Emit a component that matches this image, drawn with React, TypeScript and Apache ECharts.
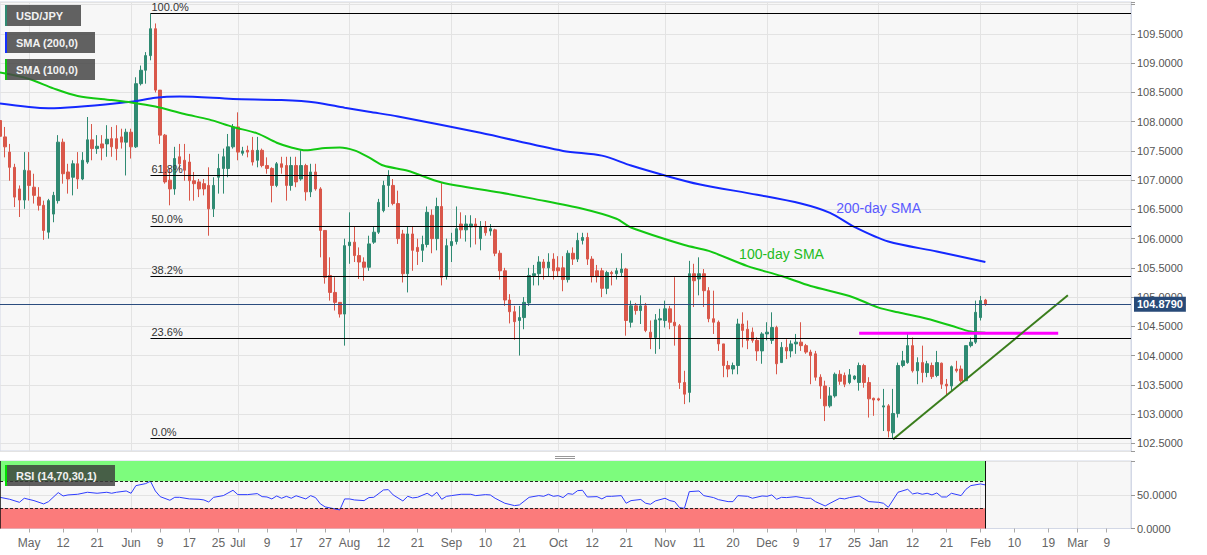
import React, { useEffect, useRef } from 'react';
import * as echarts from 'echarts';

// Daily USD/JPY candles, first bar = 2020-04-23, one bar per weekday: [open, high, low, close]
const candles: number[][] = [
  [108.02,108.08,107.34,107.75],[107.74,107.91,107.39,107.57],[107.48,107.62,106.99,107.22],[107.22,107.28,106.54,106.71],
  [106.85,106.91,106.37,106.66],[106.66,107.48,106.51,107.17],[107.16,107.48,106.65,106.91],[106.88,107.11,106.60,106.74],
  [106.71,106.88,106.48,106.57],[106.57,106.65,105.98,106.14],[106.11,106.68,106.00,106.65],[106.42,106.80,106.28,106.74],
  [106.65,107.77,106.60,107.65],[107.65,107.71,106.94,107.11],[107.14,107.28,106.77,107.02],[107.05,107.34,106.74,107.28],
  [107.28,107.48,106.85,107.02],[107.02,107.48,107.00,107.34],[107.31,108.08,107.28,107.69],[107.69,107.96,107.34,107.54],
  [107.54,107.77,107.45,107.58],[107.62,107.77,107.34,107.55],[107.62,107.94,107.40,107.70],[107.71,107.91,107.40,107.57],
  [107.71,107.94,107.34,107.54],[107.74,107.88,107.54,107.65],[107.65,107.88,107.08,107.82],[107.82,107.88,107.37,107.57],
  [107.57,108.76,107.55,108.65],[108.65,108.96,108.62,108.88],[108.88,109.19,108.65,109.13],[109.13,109.85,109.05,109.59],
  [109.59,109.68,108.50,108.54],[108.54,108.54,107.62,107.77],[107.77,107.79,106.94,106.97],[107.00,107.20,106.57,106.85],
  [106.85,107.57,106.75,107.37],[107.40,107.62,107.17,107.28],[107.34,107.62,106.99,107.17],[107.31,107.45,106.65,106.99],
  [106.99,107.14,106.65,106.94],[106.97,107.02,106.71,106.85],[106.94,107.02,106.74,106.85],[106.91,107.22,106.05,106.51],
  [106.51,107.05,106.37,106.91],[107.05,107.45,106.77,107.20],[107.20,107.54,106.77,107.40],[107.20,107.79,107.05,107.57],
  [107.57,107.96,107.54,107.91],[107.91,108.16,107.34,107.48],[107.46,107.57,107.42,107.50],[107.51,107.59,107.39,107.48],
  [107.51,107.74,107.25,107.31],[107.34,107.74,107.22,107.51],[107.51,107.54,107.22,107.25],[107.25,107.39,107.11,107.20],
  [107.20,107.22,106.62,106.91],[106.91,107.31,106.88,107.28],[107.28,107.40,107.11,107.22],[107.25,107.40,106.65,106.91],
  [106.91,107.40,106.82,107.25],[107.25,107.40,106.88,106.97],[107.02,107.51,106.99,107.25],[107.25,107.28,106.65,106.80],
  [106.80,107.28,106.71,107.14],[107.14,107.28,106.82,106.85],[106.85,106.88,105.68,106.14],[106.14,106.14,105.23,105.34],
  [105.37,105.68,104.94,105.08],[105.08,105.34,104.77,104.91],[104.91,104.91,104.65,104.71],[104.71,106.00,104.17,105.88],
  [105.88,106.45,105.57,105.94],[105.94,106.20,105.60,105.71],[105.71,105.85,105.31,105.60],[105.60,105.68,105.28,105.51],
  [105.51,106.05,105.45,105.91],[105.94,106.20,105.91,106.11],[106.11,106.68,106.08,106.62],[106.48,106.99,106.45,106.91],
  [106.91,107.17,106.54,107.08],[106.91,107.02,106.57,106.60],[106.60,106.82,105.91,106.00],[106.08,106.15,105.25,105.40],
  [105.40,106.20,105.08,106.08],[106.08,106.20,105.45,105.80],[105.85,106.00,105.55,105.78],[105.80,106.05,105.60,105.90],
  [105.90,106.55,105.85,106.45],[106.40,106.50,105.75,106.00],[106.00,106.70,105.80,106.55],[106.55,106.95,105.20,105.34],
  [105.36,106.00,105.30,105.88],[105.88,106.10,105.60,105.95],[105.95,106.55,105.90,106.17],[106.25,106.45,106.00,106.15],
  [106.15,106.40,105.95,106.25],[106.20,106.40,105.85,106.25],[106.25,106.35,105.90,106.20],[106.00,106.30,105.80,106.20],
  [106.20,106.30,106.05,106.10],[106.13,106.25,106.05,106.17],[106.15,106.17,105.70,105.75],[105.75,105.80,105.30,105.45],
  [105.45,105.50,104.85,104.95],[104.95,105.05,104.55,104.75],[104.75,104.85,104.27,104.58],[104.60,104.85,104.00,104.65],
  [104.65,105.00,104.45,104.91],[104.90,105.50,104.85,105.37],[105.37,105.55,105.20,105.40],[105.40,105.70,105.20,105.60],
  [105.60,105.65,105.30,105.50],[105.50,105.75,105.35,105.60],[105.65,105.75,105.30,105.45],[105.50,105.70,105.35,105.45],
  [105.50,105.70,105.10,105.30],[105.30,105.80,105.25,105.75],[105.75,105.85,105.55,105.65],[105.65,106.10,105.60,105.97],
  [105.97,106.10,105.90,106.02],[106.02,106.10,105.55,105.65],[105.65,105.70,105.25,105.35],[105.45,105.55,105.25,105.35],
  [105.45,105.50,105.00,105.15],[105.15,105.45,105.05,105.42],[105.42,105.45,105.20,105.40],[105.40,105.50,105.30,105.45],
  [105.42,105.75,105.35,105.48],[105.48,105.50,104.34,104.60],[104.57,104.94,104.48,104.85],[104.85,104.90,104.70,104.77],
  [104.77,105.03,104.54,104.85],[104.85,104.90,104.40,104.43],[104.40,104.60,104.11,104.31],[104.31,104.71,104.03,104.61],
  [104.61,104.80,104.11,104.63],[104.60,104.94,104.48,104.80],[104.80,104.85,104.45,104.57],[104.57,105.34,104.17,104.51],
  [104.51,104.54,103.43,103.54],[103.54,103.74,103.17,103.34],[103.37,105.62,103.20,105.40],[105.40,105.57,104.83,105.28],
  [105.31,105.68,105.03,105.40],[105.40,105.48,104.83,105.11],[105.11,105.17,104.57,104.63],[104.63,105.11,104.37,104.57],
  [104.57,104.60,104.08,104.20],[104.20,104.20,103.63,103.83],[103.83,103.91,103.63,103.77],[103.77,103.88,103.68,103.83],
  [103.83,104.63,103.68,104.54],[104.54,104.74,104.14,104.43],[104.45,104.60,104.11,104.26],[104.40,104.48,104.22,104.26],
  [104.26,104.31,103.91,104.08],[104.08,104.40,103.86,104.37],[104.37,104.57,104.26,104.40],[104.26,104.74,104.20,104.48],
  [104.48,104.51,103.68,103.86],[103.88,104.23,103.88,104.14],[104.14,104.28,103.94,104.08],[104.08,104.26,103.97,104.20],
  [104.20,104.37,104.03,104.23],[104.23,104.57,104.08,104.17],[104.17,104.20,104.03,104.06],[104.06,104.10,103.51,104.00],
  [104.03,104.08,103.57,103.63],[103.63,103.68,103.26,103.48],[103.48,103.57,102.88,103.14],[103.14,103.46,103.11,103.31],
  [103.31,103.71,103.28,103.68],[103.68,103.75,103.50,103.56],[103.66,103.71,103.46,103.51],[103.54,103.77,103.51,103.67],
  [103.60,103.66,103.58,103.65],[103.54,103.88,103.40,103.83],[103.83,103.86,103.45,103.54],[103.54,103.63,102.94,103.26],
  [103.27,103.28,102.97,103.24],[103.26,103.28,103.22,103.24],[103.12,103.43,102.71,103.14],[103.14,103.17,102.60,102.71],
  [102.68,103.43,102.59,103.01],[103.01,103.88,102.94,103.83],[103.83,104.08,103.80,103.91],[103.88,104.37,103.86,104.17],
  [104.17,104.31,103.71,103.74],[103.74,103.97,103.51,103.88],[103.88,104.17,103.54,103.71],[103.71,103.91,103.63,103.86],
  [103.83,103.88,103.60,103.64],[103.66,104.08,103.63,103.88],[103.87,103.88,103.43,103.51],[103.51,103.60,103.31,103.48],
  [103.48,103.83,103.40,103.81],[103.77,103.91,103.71,103.74],[103.77,103.83,103.54,103.57],[103.57,104.17,103.57,104.17],
  [104.17,104.31,104.14,104.23],[104.23,104.94,104.20,104.74],[104.65,105.02,104.60,104.94],[104.95,104.97,104.85,104.879],
];

// [barIndex, value]
const sma200: number[][] = [
  [0,108.31],[10,108.23],[27,108.34],[32,108.41],[37,108.43],[48,108.39],[58,108.37],[65,108.33],[71,108.24],
  [76,108.17],[82,108.09],[99,107.81],[116,107.50],[124,107.42],[130,107.25],[137,107.08],[144,106.93],
  [156,106.75],[165,106.60],[171,106.44],[176,106.20],[183,105.95],[193,105.78],[203,105.60],
];
const sma100: number[][] = [
  [0,108.84],[6,108.73],[11,108.57],[16,108.44],[23,108.37],[27,108.33],[32,108.26],[38,108.13],[43,108.04],
  [48,107.91],[53,107.80],[57,107.64],[60,107.56],[63,107.51],[67,107.55],[70,107.56],[73,107.51],[76,107.39],
  [79,107.25],[84,107.16],[91,106.96],[103,106.79],[110,106.68],[120,106.51],[127,106.34],[130,106.19],
  [141,105.89],[146,105.79],[154,105.53],[161,105.36],[167,105.19],[175,105.02],[181,104.82],[185,104.74],
  [191,104.63],[196,104.51],[200,104.41],[203,104.39],
];
const rsi: number[][] = [
  [0,46.2],[2,43.3],[4,38.8],[5,44.8],[7,41.3],[9,36.4],[10,39.8],[12,53.2],[13,48.2],[14,49.7],[16,50.7],[18,53.7],
  [20,52.2],[22,53.7],[23,52.2],[24,53.7],[26,55.6],[27,52.2],[28,63.5],[30,66.5],[31,70.0],[32,55.6],[33,47.2],
  [35,41.8],[36,46.2],[37,46.2],[39,43.8],[41,43.3],[42,42.3],[43,39.3],[44,46.2],[46,48.7],[48,56.6],[49,50.2],
  [51,50.2],[53,51.7],[54,47.2],[55,46.7],[56,43.8],[57,48.2],[58,44.8],[59,47.7],[60,44.8],[61,48.5],[63,43.8],
  [64,48.7],[65,45.8],[66,36.5],[67,32.0],[68,30.5],[69,29.0],[70,27.5],[71,43.8],[72,43.8],[73,42.3],[75,41.3],
  [76,45.8],[77,46.2],[79,57.1],[80,57.6],[81,49.7],[83,40.8],[84,47.7],[85,45.3],[86,46.2],[88,52.2],[89,47.7],
  [90,53.7],[91,43.3],[92,47.7],[93,48.7],[95,50.7],[97,50.7],[98,48.7],[100,50.2],[101,49.7],[102,44.8],[104,37.4],
  [106,33.9],[107,34.9],[109,46.2],[111,48.7],[112,47.7],[113,50.7],[114,47.7],[115,48.7],[116,45.8],[117,51.7],
  [118,50.7],[119,56.1],[120,56.6],[121,46.7],[123,47.2],[124,43.8],[125,47.7],[126,47.7],[128,48.7],[129,37.4],
  [130,41.3],[132,43.0],[133,37.5],[134,35.9],[135,40.8],[137,44.8],[138,41.3],[139,39.8],[140,30.9],[141,29.9],
  [142,54.6],[144,55.6],[145,48.7],[147,45.8],[148,42.8],[150,39.8],[151,39.8],[152,48.7],[154,47.7],[155,44.8],
  [157,48.2],[158,47.7],[159,49.7],[160,43.3],[161,46.2],[162,45.8],[164,47.2],[166,44.8],[167,44.8],[168,39.8],
  [170,33.4],[171,37.4],[173,44.8],[174,43.8],[175,45.8],[177,48.2],[179,39.8],[181,38.8],[182,37.4],[183,31.4],
  [185,53.7],[187,58.1],[188,51.2],[189,52.7],[190,50.7],[191,52.2],[192,49.7],[193,52.7],[194,46.7],[195,46.7],
  [196,52.2],[198,48.7],[199,58.1],[200,63.5],[202,66.0],[203,64.5],
];

const fibLabels = ['100.0%', '61.8%', '50.0%', '38.2%', '23.6%', '0.0%'];
const fibValues = [109.85, 107.08, 106.22, 105.36, 104.30, 102.58];
const fibStartBar = 31;
const resistanceLine: number[][] = [[177, 104.38], [218, 104.38]];
const supportTrendLine: number[][] = [[184, 102.57], [220, 105.03]];
const lastPrice = 104.879;

const xTickLabels: string[][] = [
  ['2020-05-01','May'],['2020-05-12','12'],['2020-05-21','21'],
  ['2020-06-01','Jun'],['2020-06-09','9'],['2020-06-17','17'],['2020-06-25','25'],
  ['2020-07-01','Jul'],['2020-07-09','9'],['2020-07-17','17'],['2020-07-27','27'],
  ['2020-08-03','Aug'],['2020-08-12','12'],['2020-08-21','21'],
  ['2020-09-01','Sep'],['2020-09-10','10'],['2020-09-21','21'],
  ['2020-10-01','Oct'],['2020-10-12','12'],['2020-10-21','21'],
  ['2020-11-02','Nov'],['2020-11-11','11'],['2020-11-20','20'],
  ['2020-12-01','Dec'],['2020-12-09','9'],['2020-12-17','17'],['2020-12-25','25'],
  ['2021-01-01','Jan'],['2021-01-12','12'],['2021-01-21','21'],
  ['2021-02-01','Feb'],['2021-02-10','10'],['2021-02-19','19'],
  ['2021-03-01','Mar'],['2021-03-09','9'],
];

const TOTAL_SLOTS = 234;

function weekdayDates(): string[] {
  const out: string[] = [];
  const d = new Date(Date.UTC(2020, 3, 23));
  while (out.length < TOTAL_SLOTS) {
    const wd = d.getUTCDay();
    if (wd !== 0 && wd !== 6) out.push(d.toISOString().slice(0, 10));
    d.setUTCDate(d.getUTCDate() + 1);
  }
  return out;
}

const FONT = 'Arial, "Liberation Sans", sans-serif';

export default function App() {
  const ref = useRef<HTMLDivElement>(null);
  useEffect(() => {
    if (!ref.current) return;
    const chart = echarts.init(ref.current, undefined, { renderer: 'svg' });
    const dates = weekdayDates();
    const labelMap: Record<string, string> = {};
    xTickLabels.forEach(([d, t]) => (labelMap[d] = t));
    const isLabel = (_i: number, v: string) => labelMap[v] !== undefined;
    const isMonth = (_i: number, v: string) => labelMap[v] !== undefined && isNaN(Number(labelMap[v]));
    const lastBar = candles.length - 1;
    const lastSlot = TOTAL_SLOTS - 1;
    const gridLine = { color: '#e3e3e3', width: 1 };
    const frame = '#d3d8e6';

    const fibMarks = fibValues.map((v, k) => [
      { coord: [fibStartBar, v], label: { show: true, formatter: fibLabels[k], position: 'insideStartTop', distance: [1, 1], color: '#333', fontSize: 11, fontFamily: FONT } },
      { coord: [lastSlot, v] },
    ]);

    const option: any = {
      animation: false,
      backgroundColor: '#ffffff',
      textStyle: { fontFamily: FONT },
      grid: [
        { left: 0, top: 2, width: 1131, height: 449, show: true, backgroundColor: '#f7f7f7', borderColor: frame, borderWidth: 1 },
        { left: 0, top: 461, width: 1131, height: 67.5, show: true, backgroundColor: '#f7f7f7', borderColor: frame, borderWidth: 1 },
      ],
      xAxis: [
        {
          type: 'category', gridIndex: 0, data: dates, boundaryGap: false,
          axisLine: { show: false }, axisTick: { show: false }, axisLabel: { show: false },
          splitLine: { show: true, interval: isMonth, lineStyle: gridLine },
        },
        {
          type: 'category', gridIndex: 1, data: dates, boundaryGap: false,
          axisLine: { show: true, lineStyle: { color: frame } },
          axisTick: { show: true, interval: isLabel, length: 4, lineStyle: { color: '#aaa' } },
          axisLabel: { show: true, interval: isLabel, formatter: (v: string) => labelMap[v] || '', color: '#666', fontSize: 12, margin: 8 },
          splitLine: { show: true, interval: isMonth, lineStyle: gridLine },
        },
      ],
      yAxis: [
        {
          type: 'value', gridIndex: 0, position: 'right', min: 102.368, max: 110.047, splitNumber: 15,
          axisLine: { show: true, lineStyle: { color: frame } },
          axisTick: { show: true, length: 4, lineStyle: { color: '#999' } },
          axisLabel: {
            color: '#555', fontSize: 11, margin: 6,
            formatter: (v: number) => {
              const r = Math.round(v * 2) / 2;
              if (Math.abs(v - r) > 1e-6 || v < 102.4 || v > 109.6) return '';
              return v.toFixed(4);
            },
          },
          splitLine: { show: true, lineStyle: gridLine },
        },
        {
          type: 'value', gridIndex: 1, position: 'right', min: 0, max: 100, interval: 50,
          axisLine: { show: true, lineStyle: { color: frame } },
          axisTick: { show: true, length: 4, lineStyle: { color: '#999' } },
          axisLabel: { color: '#555', fontSize: 11, margin: 6, formatter: (v: number) => (v === 0 || v === 50 ? v.toFixed(4) : '') },
          splitLine: { show: true, lineStyle: gridLine },
        },
      ],
      series: [
        {
          type: 'candlestick', xAxisIndex: 0, yAxisIndex: 0, barWidth: 3,
          data: candles.map(([o, h, l, c]) => [o, c, l, h]),
          itemStyle: { color: '#2f8a72', color0: '#d9574a', borderColor: '#2f8a72', borderColor0: '#d9574a', borderWidth: 1 },
        },
        {
          type: 'line', name: 'SMA (200,0)', xAxisIndex: 0, yAxisIndex: 0, data: sma200, showSymbol: false, smooth: 0.3, clip: false,
          lineStyle: { color: '#1428ff', width: 2 },
          markLine: {
            symbol: ['none', 'none'], silent: true,
            lineStyle: { color: '#000', width: 1, type: 'solid' },
            data: [
              ...fibMarks,
              [
                { coord: [0, lastPrice], lineStyle: { color: '#2b4c7e', width: 1, type: 'solid' },
                  label: { show: true, position: 'end', distance: 3, formatter: lastPrice.toFixed(4), color: '#fff', fontWeight: 'bold', fontSize: 11, backgroundColor: '#284a78', padding: [2, 3, 2, 3] } },
                { coord: [lastSlot, lastPrice] },
              ],
            ],
          },
          markPoint: {
            symbol: 'rect', symbolSize: [1, 1], itemStyle: { color: 'transparent' },
            data: [{ coord: [181, 106.53], label: { show: true, position: 'inside', formatter: '200-day SMA', color: '#5a5aff', fontSize: 14 } }],
          },
        },
        {
          type: 'line', name: 'SMA (100,0)', xAxisIndex: 0, yAxisIndex: 0, data: sma100, showSymbol: false, smooth: 0.3,
          lineStyle: { color: '#12c812', width: 2 },
          markPoint: {
            symbol: 'rect', symbolSize: [1, 1], itemStyle: { color: 'transparent' },
            data: [{ coord: [161, 105.74], label: { show: true, position: 'inside', formatter: '100-day SMA', color: '#22bb22', fontSize: 14 } }],
          },
        },
        {
          type: 'line', xAxisIndex: 0, yAxisIndex: 0, data: resistanceLine, showSymbol: false,
          lineStyle: { color: '#ff00ff', width: 3 },
        },
        {
          type: 'line', xAxisIndex: 0, yAxisIndex: 0, data: supportTrendLine, showSymbol: false,
          lineStyle: { color: '#3a7d1c', width: 2 },
        },
        {
          type: 'line', name: 'RSI', xAxisIndex: 1, yAxisIndex: 1, data: rsi, showSymbol: false, clip: false,
          lineStyle: { color: '#2f3dff', width: 1 },
          markArea: {
            silent: true,
            data: [
              [{ coord: [0, 70], itemStyle: { color: '#7dfc7d', opacity: 1 } }, { coord: [lastBar, 100] }],
              [{ coord: [0, 0], itemStyle: { color: '#fb7b7b', opacity: 1 } }, { coord: [lastBar, 30] }],
            ],
          },
          markLine: {
            symbol: ['none', 'none'], silent: true, label: { show: false },
            data: [
              [{ coord: [0, 70], lineStyle: { color: '#222', width: 1, type: [3, 2] } }, { coord: [lastBar, 70] }],
              [{ coord: [0, 30], lineStyle: { color: '#222', width: 1, type: [3, 2] } }, { coord: [lastBar, 30] }],
              [{ coord: [lastBar, 0], lineStyle: { color: '#111', width: 1, type: 'solid' } }, { coord: [lastBar, 100] }],
              [{ coord: [0, 0], lineStyle: { color: '#111', width: 1.5, type: 'solid' } }, { coord: [0, 100] }],
            ],
          },
        },
      ],
      graphic: [
        { type: 'rect', z: 100, shape: { x: 5, y: 5, width: 76, height: 21 }, style: { fill: 'rgba(72,72,72,0.86)' } },
        { type: 'rect', z: 101, shape: { x: 5, y: 5, width: 2, height: 21 }, style: { fill: '#2f8a72' } },
        { type: 'text', z: 101, x: 16, y: 15.5, style: { text: 'USD/JPY', fill: '#f2f2f2', fontSize: 11, fontWeight: 'bold', fontFamily: FONT, verticalAlign: 'middle' } },
        { type: 'rect', z: 100, shape: { x: 5, y: 32, width: 90, height: 21 }, style: { fill: 'rgba(72,72,72,0.86)' } },
        { type: 'rect', z: 101, shape: { x: 5, y: 32, width: 2, height: 21 }, style: { fill: '#1430ff' } },
        { type: 'text', z: 101, x: 16, y: 42.5, style: { text: 'SMA (200,0)', fill: '#f2f2f2', fontSize: 11, fontWeight: 'bold', fontFamily: FONT, verticalAlign: 'middle' } },
        { type: 'rect', z: 100, shape: { x: 5, y: 59, width: 90, height: 21 }, style: { fill: 'rgba(72,72,72,0.86)' } },
        { type: 'rect', z: 101, shape: { x: 5, y: 59, width: 2, height: 21 }, style: { fill: '#10c010' } },
        { type: 'text', z: 101, x: 16, y: 69.5, style: { text: 'SMA (100,0)', fill: '#f2f2f2', fontSize: 11, fontWeight: 'bold', fontFamily: FONT, verticalAlign: 'middle' } },
        { type: 'rect', z: 100, shape: { x: 5, y: 465, width: 110, height: 21 }, style: { fill: 'rgba(60,60,60,0.82)' } },
        { type: 'rect', z: 101, shape: { x: 5, y: 465, width: 2, height: 21 }, style: { fill: '#00e000' } },
        { type: 'text', z: 101, x: 16, y: 475.5, style: { text: 'RSI (14,70,30,1)', fill: '#f2f2f2', fontSize: 11, fontWeight: 'bold', fontFamily: FONT, verticalAlign: 'middle' } },
        { type: 'line', z: 100, shape: { x1: 555, y1: 456.5, x2: 575, y2: 456.5 }, style: { stroke: '#999', lineWidth: 1 } },
        { type: 'line', z: 100, shape: { x1: 555, y1: 458.5, x2: 575, y2: 458.5 }, style: { stroke: '#999', lineWidth: 1 } },
      ],
    };
    chart.setOption(option);
    return () => chart.dispose();
  }, []);
  return (
    <div style={{ position: 'fixed', left: 0, top: 0, width: 1207, height: 555, background: '#fff' }}>
      <div ref={ref} style={{ width: 1207, height: 555 }} />
    </div>
  );
}
